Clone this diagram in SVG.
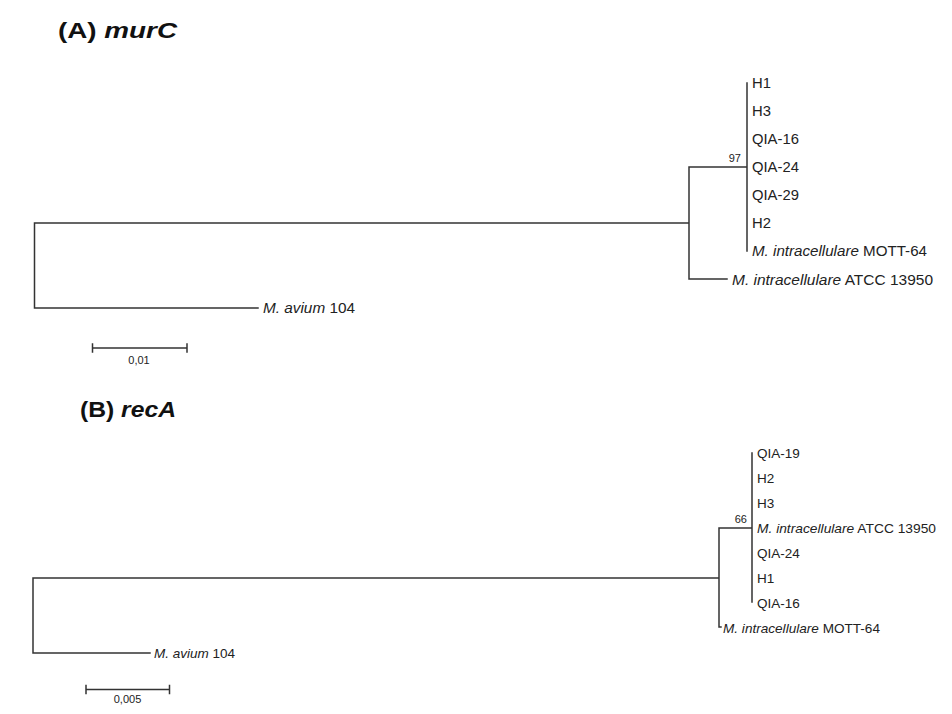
<svg xmlns="http://www.w3.org/2000/svg" width="952" height="714" viewBox="0 0 952 714">
<style>
.br{fill:none;stroke:#333;stroke-width:1.5;stroke-linecap:square}
.title{font-family:"Liberation Sans",Arial,sans-serif;font-weight:bold;font-size:22.5px;fill:#111}
.la{font-family:"Liberation Sans",Arial,sans-serif;font-size:14.8px;fill:#222}
.lb{font-family:"Liberation Sans",Arial,sans-serif;font-size:13.5px;fill:#222}
.bs{font-family:"Liberation Sans",Arial,sans-serif;font-size:11px;fill:#222}
.sc{font-family:"Liberation Sans",Arial,sans-serif;font-size:11px;fill:#222}
.i{font-style:italic}
</style>
<rect width="952" height="714" fill="#fff"/>

<g id="titleA"><text class="title" x="58" y="37.5" textLength="119" lengthAdjust="spacingAndGlyphs">(A) <tspan class="i">murC</tspan></text></g>
<g id="titleB"><text class="title" x="80" y="417" textLength="96" lengthAdjust="spacingAndGlyphs">(B) <tspan class="i">recA</tspan></text></g>

<g id="connectors">
  <path class="br" d="M34.5,223 V308 M34.5,223 H689 M34.5,308 H258 M689,167 V279 M689,167 H747 M689,279 H727 M747,83 V251"/>
  <path class="br" d="M92.5,348 H187 M92.5,344 V352 M187,344 V352"/>
  <path class="br" d="M33,578 V653 M33,578 H719 M33,653 H150 M719,528 V627 M719,528 H752 M719,627 H721 M752,453 V602"/>
  <path class="br" d="M86,689.5 H169.5 M86,685.5 V693.5 M169.5,685.5 V693.5"/>
</g>

<g id="A-H1"><text class="la" x="752" y="88">H1</text></g>
<g id="A-H3"><text class="la" x="752" y="116">H3</text></g>
<g id="A-QIA16"><text class="la" x="752" y="144">QIA-16</text></g>
<g id="A-QIA24"><text class="la" x="752" y="172">QIA-24</text></g>
<g id="A-QIA29"><text class="la" x="752" y="200">QIA-29</text></g>
<g id="A-H2"><text class="la" x="752" y="228">H2</text></g>
<g id="A-MOTT64"><text class="la" x="752" y="256" textLength="175" lengthAdjust="spacingAndGlyphs"><tspan class="i">M. intracellulare</tspan> MOTT-64</text></g>
<g id="A-ATCC"><text class="la" x="732" y="284.5" textLength="201" lengthAdjust="spacingAndGlyphs"><tspan class="i">M. intracellulare</tspan> ATCC 13950</text></g>
<g id="A-avium"><text class="la" x="263" y="313" textLength="92" lengthAdjust="spacingAndGlyphs"><tspan class="i">M. avium</tspan> 104</text></g>
<g id="A-boot"><text class="bs" x="741" y="162" text-anchor="end">97</text></g>
<g id="A-scale"><text class="sc" x="139" y="363.5" text-anchor="middle">0,01</text></g>

<g id="B-QIA19"><text class="lb" x="757" y="457.5">QIA-19</text></g>
<g id="B-H2"><text class="lb" x="757" y="482.5">H2</text></g>
<g id="B-H3"><text class="lb" x="757" y="507.5">H3</text></g>
<g id="B-ATCC"><text class="lb" x="757" y="532.5" textLength="179" lengthAdjust="spacingAndGlyphs"><tspan class="i">M. intracellulare</tspan> ATCC 13950</text></g>
<g id="B-QIA24"><text class="lb" x="757" y="557.5">QIA-24</text></g>
<g id="B-H1"><text class="lb" x="757" y="582.5">H1</text></g>
<g id="B-QIA16"><text class="lb" x="757" y="607.5">QIA-16</text></g>
<g id="B-MOTT64"><text class="lb" x="723" y="632.5" textLength="157" lengthAdjust="spacingAndGlyphs"><tspan class="i">M. intracellulare</tspan> MOTT-64</text></g>
<g id="B-avium"><text class="lb" x="154" y="658" textLength="81" lengthAdjust="spacingAndGlyphs"><tspan class="i">M. avium</tspan> 104</text></g>
<g id="B-boot"><text class="bs" x="747" y="523" text-anchor="end">66</text></g>
<g id="B-scale"><text class="sc" x="127.5" y="703" text-anchor="middle">0,005</text></g>
</svg>
